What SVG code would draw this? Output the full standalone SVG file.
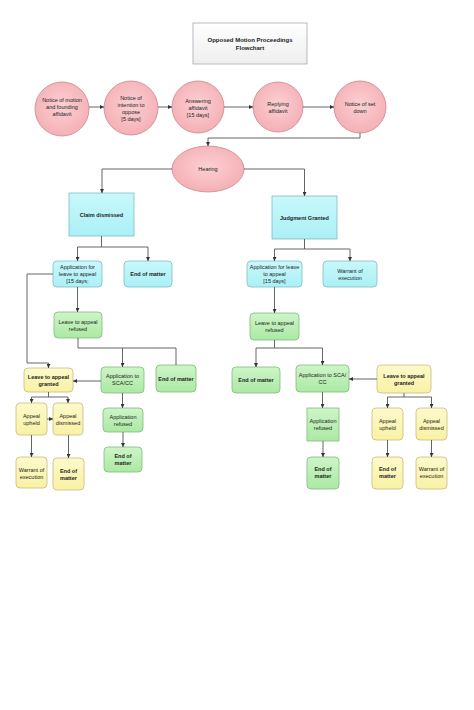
<svg xmlns="http://www.w3.org/2000/svg" width="474" height="710" viewBox="0 0 474 710">
<style>
text{font-family:"Liberation Sans",Arial,sans-serif;font-size:5.5px;fill:#222;text-anchor:middle}
.b{font-weight:bold}
.t{font-size:6px;font-weight:bold}
.pink{fill:url(#gp);stroke:#c8868c;stroke-width:0.8}
.cyan{fill:url(#gc);stroke:#80bcc4;stroke-width:0.8}
.green{fill:url(#gg);stroke:#82b982;stroke-width:0.8}
.yellow{fill:url(#gy);stroke:#c6bd80;stroke-width:0.8}
.title{fill:url(#gt);stroke:#aaa;stroke-width:0.8}
.c path{fill:none;stroke:#555;stroke-width:0.9}
.c .a{marker-end:url(#arr)}
</style>
<defs>
<radialGradient id="gp" cx="50%" cy="45%" r="60%"><stop offset="0" stop-color="#fbd0d3"/><stop offset="1" stop-color="#f4adb3"/></radialGradient>
<linearGradient id="gc" x1="0" y1="0" x2="0" y2="1"><stop offset="0" stop-color="#c8f8fb"/><stop offset="1" stop-color="#aaf0f6"/></linearGradient>
<linearGradient id="gg" x1="0" y1="0" x2="0" y2="1"><stop offset="0" stop-color="#cdf5c7"/><stop offset="1" stop-color="#abe9a3"/></linearGradient>
<linearGradient id="gy" x1="0" y1="0" x2="0" y2="1"><stop offset="0" stop-color="#fdfacb"/><stop offset="1" stop-color="#f9f1a4"/></linearGradient>
<linearGradient id="gt" x1="0" y1="0" x2="0" y2="1"><stop offset="0" stop-color="#ffffff"/><stop offset="1" stop-color="#eeeeee"/></linearGradient>
<marker id="arr" viewBox="0 0 6 6" refX="6" refY="3" markerWidth="4" markerHeight="4" markerUnits="userSpaceOnUse" orient="auto"><path d="M0,0 L6,3 L0,6 z" fill="#333"/></marker>
</defs>

<g id="title"><rect class="title" x="193" y="23" width="114" height="41"/><text class="t" x="250" y="42">Opposed Motion Proceedings</text><text class="t" x="250" y="50">Flowchart</text></g>

<g id="c1"><circle class="pink" cx="62" cy="109" r="27"/><text x="62" y="102">Notice of motion</text><text x="62" y="109">and founding</text><text x="62" y="116">affidavit</text></g>
<g id="c2"><circle class="pink" cx="131" cy="108" r="27"/><text x="131" y="99.5">Notice of</text><text x="131" y="106.5">intention to</text><text x="131" y="113.5">oppose</text><text x="131" y="120.5">[5 days]</text></g>
<g id="c3"><circle class="pink" cx="198" cy="107" r="26"/><text x="198" y="103">Answering</text><text x="198" y="110">affidavit</text><text x="198" y="117">[15 days]</text></g>
<g id="c4"><circle class="pink" cx="278" cy="107" r="25"/><text x="278" y="106">Replying</text><text x="278" y="112.5">affidavit</text></g>
<g id="c5"><circle class="pink" cx="360" cy="107" r="26"/><text x="360" y="106">Notice of set</text><text x="360" y="112.5">down</text></g>

<g id="hearing"><ellipse class="pink" cx="208" cy="169" rx="36" ry="23"/><text x="208" y="171">Hearing</text></g>

<g id="claim"><rect class="cyan" x="69" y="193" width="65" height="43"/><text class="b" x="101.5" y="216.5">Claim dismissed</text></g>
<g id="judgment"><rect class="cyan" x="272" y="196" width="65" height="43"/><text class="b" x="304.5" y="219.5">Judgment Granted</text></g>

<g id="l-app"><rect class="cyan" x="53" y="261" width="49" height="26" rx="4"/><text x="77.5" y="269">Application for</text><text x="77.5" y="276">leave to appeal</text><text x="77.5" y="283">[15 days;</text></g>
<g id="l-eom1"><rect class="cyan" x="124" y="261" width="48" height="26" rx="4"/><text class="b" x="148" y="276">End of matter</text></g>
<g id="r-app"><rect class="cyan" x="247" y="261" width="55" height="26" rx="4"/><text x="274.5" y="269">Application for leave</text><text x="274.5" y="276">to appeal</text><text x="274.5" y="283">[15 days]</text></g>
<g id="r-warrant1"><rect class="cyan" x="323" y="261" width="54" height="26" rx="4"/><text x="350" y="273">Warrant of</text><text x="350" y="279.5">execution</text></g>

<g id="l-refused"><rect class="green" x="54" y="312" width="48" height="26" rx="4"/><text x="78" y="324">Leave to appeal</text><text x="78" y="331">refused</text></g>
<g id="r-refused"><rect class="green" x="250" y="313" width="49" height="27" rx="4"/><text x="274.5" y="325">Leave to appeal</text><text x="274.5" y="332">refused</text></g>

<g id="l-granted"><rect class="yellow" x="24" y="368" width="49" height="24" rx="4"/><text class="b" x="48.5" y="379">Leave to appeal</text><text class="b" x="48.5" y="385.5">granted</text></g>
<g id="l-sca"><rect class="green" x="101" y="367" width="43" height="26" rx="4"/><text x="122.5" y="378">Application to</text><text x="122.5" y="385">SCA/CC</text></g>
<g id="l-eom2"><rect class="green" x="156" y="365" width="40" height="27" rx="4"/><text class="b" x="176" y="381">End of matter</text></g>
<g id="l-upheld"><rect class="yellow" x="16" y="403" width="31" height="32" rx="4"/><text x="31.5" y="418">Appeal</text><text x="31.5" y="425">upheld</text></g>
<g id="l-dismissed"><rect class="yellow" x="53" y="403" width="30" height="32" rx="4"/><text x="68" y="418">Appeal</text><text x="68" y="425">dismissed</text></g>
<g id="l-warrant"><rect class="yellow" x="16" y="457" width="31" height="31" rx="4"/><text x="31.5" y="472">Warrant of</text><text x="31.5" y="479">execution</text></g>
<g id="l-eom3"><rect class="yellow" x="53" y="458" width="31" height="32" rx="4"/><text class="b" x="68.5" y="473">End of</text><text class="b" x="68.5" y="480">matter</text></g>
<g id="l-apprefused"><rect class="green" x="103" y="408" width="40" height="24" rx="4"/><text x="123" y="419">Application</text><text x="123" y="426">refused</text></g>
<g id="l-eom4"><rect class="green" x="104" y="447" width="38" height="25" rx="4"/><text class="b" x="123" y="458">End of</text><text class="b" x="123" y="465">matter</text></g>

<g id="r-eom1"><rect class="green" x="232" y="367" width="48" height="26" rx="4"/><text class="b" x="256" y="382">End of matter</text></g>
<g id="r-sca"><rect class="green" x="296" y="365" width="53" height="27" rx="4"/><text x="322.5" y="377">Application to SCA/</text><text x="322.5" y="384">CC</text></g>
<g id="r-granted"><rect class="yellow" x="377" y="365" width="54" height="28" rx="4"/><text class="b" x="404" y="378">Leave to appeal</text><text class="b" x="404" y="385">granted</text></g>
<g id="r-apprefused"><rect class="green" x="307" y="408" width="32" height="33"/><text x="323" y="423">Application</text><text x="323" y="430">refused</text></g>
<g id="r-eom2"><rect class="green" x="307" y="457" width="32" height="32" rx="4"/><text class="b" x="323" y="471">End of</text><text class="b" x="323" y="478">matter</text></g>
<g id="r-upheld"><rect class="yellow" x="372" y="408" width="31" height="32" rx="4"/><text x="387.5" y="423">Appeal</text><text x="387.5" y="430">upheld</text></g>
<g id="r-dismissed"><rect class="yellow" x="416" y="408" width="31" height="32" rx="4"/><text x="431.5" y="423">Appeal</text><text x="431.5" y="430">dismissed</text></g>
<g id="r-eom3"><rect class="yellow" x="372" y="457" width="31" height="32" rx="4"/><text class="b" x="387.5" y="471">End of</text><text class="b" x="387.5" y="478">matter</text></g>
<g id="r-warrant"><rect class="yellow" x="416" y="457" width="31" height="32" rx="4"/><text x="431.5" y="471">Warrant of</text><text x="431.5" y="478">execution</text></g>

<g id="connectors" class="c">
<path class="a" d="M89,107 H104"/>
<path class="a" d="M158,107 H172"/>
<path class="a" d="M224,107 H253"/>
<path class="a" d="M303,107 H334"/>
<path class="a" d="M360,133 V138 H208 V146"/>
<path class="a" d="M172,169 H102 V193"/>
<path class="a" d="M244,169 H304.5 V196"/>
<path class="a" d="M101.5,236 V247 H77.5 V261"/>
<path class="a" d="M101.5,247 H148 V261"/>
<path class="a" d="M304.5,239 V249 H274.5 V261"/>
<path class="a" d="M304.5,249 H350 V261"/>
<path class="a" d="M77.5,287 V312"/>
<path class="a" d="M53,274 H27 V363 H48.5 V368"/>
<path class="a" d="M78,338 V348 H122.5 V367"/>
<path d="M122.5,348 H176 V365"/>
<path class="a" d="M101,381 H73"/>
<path class="a" d="M48.5,392 V397 H31.5 V403"/>
<path class="a" d="M48.5,397 H68 V403"/>
<path class="a" d="M47,419 H53"/>
<path class="a" d="M31.5,435 V457"/>
<path class="a" d="M68.5,435 V458"/>
<path class="a" d="M122.5,393 V408"/>
<path class="a" d="M123,432 V447"/>
<path class="a" d="M274.5,287 V313"/>
<path class="a" d="M274.5,340 V348 H256 V367"/>
<path class="a" d="M274.5,348 H322.5 V365"/>
<path class="a" d="M377,379 H349"/>
<path class="a" d="M322.5,392 V408"/>
<path class="a" d="M323,441 V457"/>
<path class="a" d="M404,393 V397 H387.5 V408"/>
<path class="a" d="M404,397 H431.5 V408"/>
<path class="a" d="M387.5,440 V457"/>
<path class="a" d="M431.5,440 V457"/>
</g>
</svg>
